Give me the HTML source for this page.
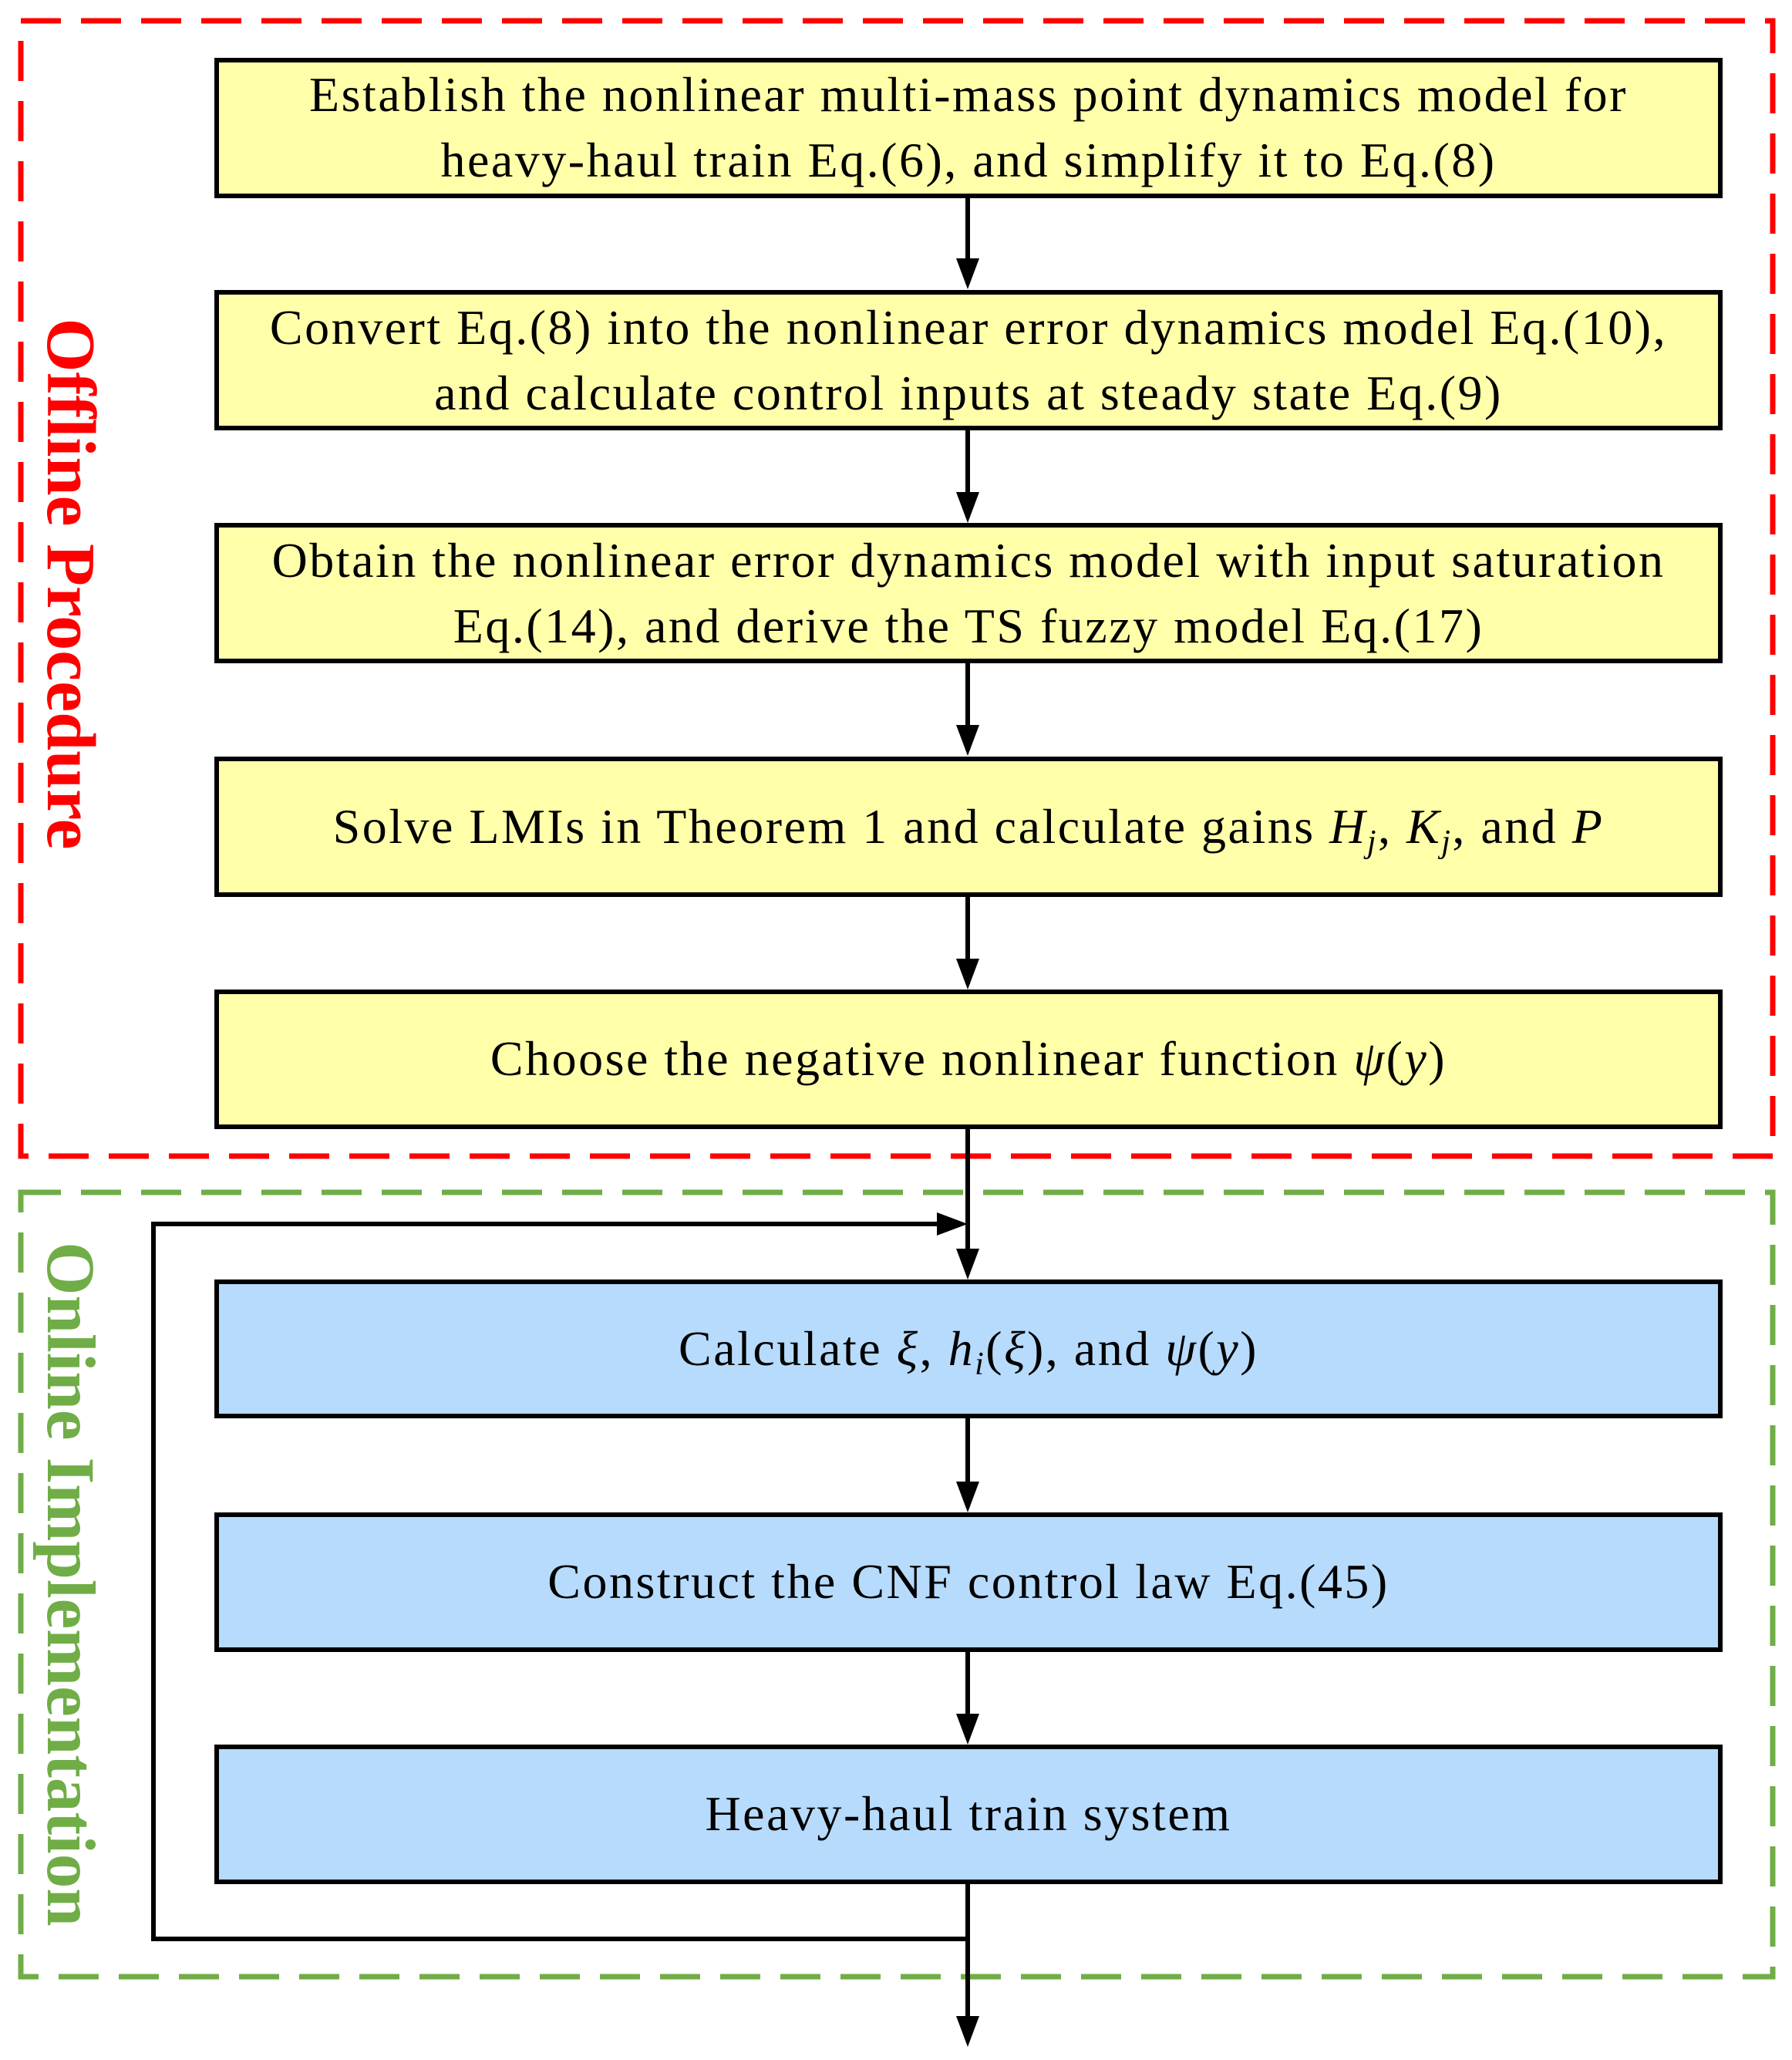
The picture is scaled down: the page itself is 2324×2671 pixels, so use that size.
<!DOCTYPE html>
<html><head><style>
body{margin:0;background:#fff;}
svg text{font-family:"Liberation Serif",serif;}
</style></head><body>
<svg width="2324" height="2666" viewBox="0 0 2324 2666" xmlns="http://www.w3.org/2000/svg">
<rect x="27" y="27" width="2272" height="1472" fill="none" stroke="#ff0000" stroke-width="7" stroke-dasharray="52,26"/>
<rect x="27" y="1546" width="2272" height="1017" fill="none" stroke="#70ad47" stroke-width="7" stroke-dasharray="52,26"/>
<text transform="translate(62,757) rotate(90)" text-anchor="middle" font-size="90" font-weight="bold" fill="#ff0000">Offline Procedure</text>
<text transform="translate(62,2054) rotate(90)" text-anchor="middle" font-size="89" font-weight="bold" fill="#70ad47">Online Implementation</text>
<g stroke="#000" stroke-width="6" fill="none">
<path d="M1255 254 V368"/><path d="M1255 555 V671"/><path d="M1255 857 V973"/><path d="M1255 1160 V1276"/><path d="M1255 1461 V1652"/><path d="M1255 1836 V1954"/><path d="M1255 2139 V2255"/><path d="M1255 2440 V2640"/>
<path d="M1255 2514 H199 V1587 H1245"/>
</g>
<g fill="#000">
<path d="M1240 335 L1270 335 L1255 375z"/><path d="M1240 638 L1270 638 L1255 678z"/><path d="M1240 940 L1270 940 L1255 980z"/><path d="M1240 1243 L1270 1243 L1255 1283z"/><path d="M1240 1619 L1270 1619 L1255 1659z"/><path d="M1240 1921 L1270 1921 L1255 1961z"/><path d="M1240 2222 L1270 2222 L1255 2262z"/><path d="M1240 2614 L1270 2614 L1255 2654z"/>
<path d="M1215 1572 L1255 1587 L1215 1602z"/>
</g>
<g stroke="#000" stroke-width="6">
<rect x="281" y="78" width="1950" height="176" fill="#ffffaa"/>
<rect x="281" y="379" width="1950" height="176" fill="#ffffaa"/>
<rect x="281" y="681" width="1950" height="176" fill="#ffffaa"/>
<rect x="281" y="984" width="1950" height="176" fill="#ffffaa"/>
<rect x="281" y="1286" width="1950" height="175" fill="#ffffaa"/>
<rect x="281" y="1662" width="1950" height="174" fill="#b7dbfd"/>
<rect x="281" y="1964" width="1950" height="175" fill="#b7dbfd"/>
<rect x="281" y="2265" width="1950" height="175" fill="#b7dbfd"/>
</g>
<g font-size="64" letter-spacing="2.5" text-anchor="middle" fill="#000">
<text x="1256" y="144">Establish the nonlinear multi-mass point dynamics model for</text>
<text x="1256" y="229">heavy-haul train Eq.(6), and simplify it to Eq.(8)</text>
<text x="1256" y="446">Convert Eq.(8) into the nonlinear error dynamics model Eq.(10),</text>
<text x="1256" y="531">and calculate control inputs at steady state Eq.(9)</text>
<text x="1256" y="748">Obtain the nonlinear error dynamics model with input saturation</text>
<text x="1256" y="833">Eq.(14), and derive the TS fuzzy model Eq.(17)</text>
<text x="1256" y="1093">Solve LMIs in Theorem 1 and calculate gains <tspan font-style="italic">H</tspan><tspan font-style="italic" font-size="42" dy="12">j</tspan><tspan dy="-12">, </tspan><tspan font-style="italic">K</tspan><tspan font-style="italic" font-size="42" dy="12">j</tspan><tspan dy="-12">, and </tspan><tspan font-style="italic">P</tspan></text>
<text x="1256" y="1394">Choose the negative nonlinear function <tspan font-style="italic">ψ</tspan>(<tspan font-style="italic">y</tspan>)</text>
<text x="1256" y="1770">Calculate <tspan font-style="italic">ξ</tspan>, <tspan font-style="italic">h</tspan><tspan font-style="italic" font-size="42" dy="12">i</tspan><tspan dy="-12">(</tspan><tspan font-style="italic">ξ</tspan>), and <tspan font-style="italic">ψ</tspan>(<tspan font-style="italic">y</tspan>)</text>
<text x="1256" y="2072">Construct the CNF control law Eq.(45)</text>
<text x="1256" y="2373">Heavy-haul train system</text>
</g>
</svg>
</body></html>
